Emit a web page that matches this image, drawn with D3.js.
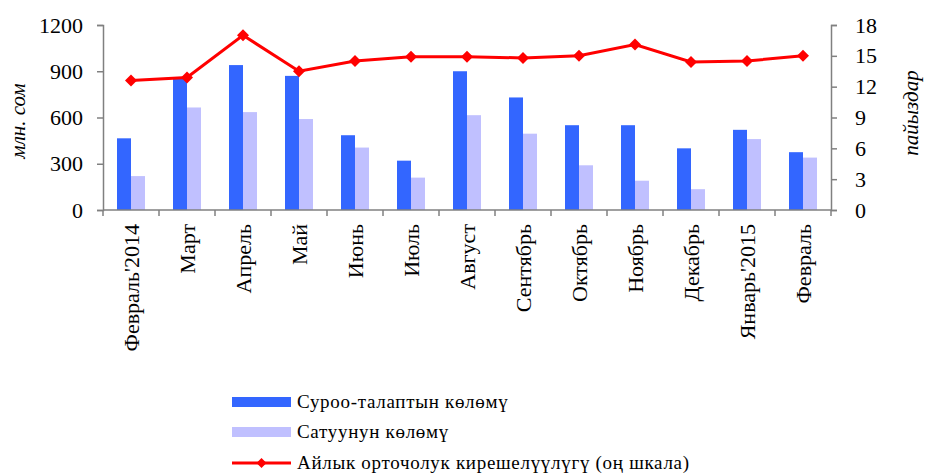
<!DOCTYPE html>
<html>
<head>
<meta charset="utf-8">
<script src="https://cdn.jsdelivr.net/npm/d3@7"></script>
<style>
  body { margin: 0; background: #fff; }
  text { font-family: "Liberation Serif", "Times New Roman", serif; fill: #000; }
</style>
</head>
<body>
<svg id="chart"></svg>
<script>
// months along the x axis
var months = ["Февраль'2014", "Март", "Апрель", "Май", "Июнь", "Июль", "Август",
  "Сентябрь", "Октябрь", "Ноябрь", "Декабрь", "Январь'2015", "Февраль"];
// demand volume, mln som
var demand = [465, 850, 940, 870, 485, 320, 900, 730, 550, 550, 400, 520, 375];
// sales volume, mln som
var sales = [220, 665, 635, 590, 405, 210, 615, 495, 290, 190, 135, 460, 340];
// average monthly yield, % (right scale)
var yieldPct = [12.6, 12.9, 17.0, 13.5, 14.5, 14.9, 14.9, 14.8, 15.0, 16.1, 14.4, 14.5, 15.0];
var leftTicks = [0, 300, 600, 900, 1200];
var rightTicks = [0, 3, 6, 9, 12, 15, 18];
var legendNames = ["Суроо-талаптын көлөмү", "Сатуунун көлөмү", "Айлык орточолук кирешелүүлүгү (оң шкала)"];

var width = 927, height = 476;
// plot area (window.top is reserved, so prefixed names)
var plotL = 103, plotR = 831, plotT = 25, plotB = 210;
var axisColor = "#808080";

var svg = d3.select("#chart").attr("width", width).attr("height", height);

var x = d3.scaleBand().domain(months).range([plotL, plotR]);
var yL = d3.scaleLinear().domain([0, 1200]).range([plotB, plotT]);
var yR = d3.scaleLinear().domain([0, 18]).range([plotB, plotT]);
var barW = 14;

// bars
var grp = svg.selectAll(".month").data(months).enter().append("g");
grp.append("rect")
  .attr("x", function(d) { return x(d) + x.bandwidth() / 2 - barW; })
  .attr("width", barW)
  .attr("y", function(d, i) { return yL(demand[i]); })
  .attr("height", function(d, i) { return plotB - yL(demand[i]); })
  .attr("fill", "#3366ff");
grp.append("rect")
  .attr("x", function(d) { return x(d) + x.bandwidth() / 2; })
  .attr("width", barW)
  .attr("y", function(d, i) { return yL(sales[i]); })
  .attr("height", function(d, i) { return plotB - yL(sales[i]); })
  .attr("fill", "#c0c0ff");

// axes
var axL = svg.append("g").attr("transform", "translate(" + plotL + ",0)")
  .call(d3.axisLeft(yL).tickValues(leftTicks).tickSize(6).tickPadding(14).tickFormat(d3.format("d")));
var axR = svg.append("g").attr("transform", "translate(" + plotR + ",0)")
  .call(d3.axisRight(yR).tickValues(rightTicks).tickSize(6).tickPadding(18));
[axL, axR].forEach(function(a) {
  a.selectAll("text").style("font-size", "22px").style("font-family", "Liberation Serif");
});

var axX = svg.append("g").attr("transform", "translate(0," + plotB + ")");
axX.append("line").attr("x1", plotL).attr("x2", plotR).attr("stroke", axisColor).attr("stroke-width", 1.5);
axX.selectAll(".tk").data(d3.range(months.length + 1)).enter().append("line")
  .attr("x1", function(i) { return plotL + i * x.step(); })
  .attr("x2", function(i) { return plotL + i * x.step(); })
  .attr("y1", 0).attr("y2", 6)
  .attr("stroke", axisColor).attr("stroke-width", 1.5);
axX.selectAll(".lbl").data(months).enter().append("text")
  .attr("transform", function(d) { return "translate(" + (x(d) + x.bandwidth() / 2 + 8) + ",14) rotate(-90)"; })
  .attr("text-anchor", "end")
  .style("font-size", "22px")
  .text(function(d) { return d; });

svg.selectAll(".domain, .tick line").attr("stroke", axisColor).attr("stroke-width", 1.5);

// yield line
var line = d3.line()
  .x(function(d, i) { return x(months[i]) + x.bandwidth() / 2; })
  .y(function(d) { return yR(d); });
svg.append("path").datum(yieldPct).attr("d", line)
  .attr("fill", "none").attr("stroke", "#ff0000").attr("stroke-width", 3);
var diamond = "M0,-6L6,0L0,6L-6,0Z";
svg.selectAll(".mk").data(yieldPct).enter().append("path")
  .attr("d", diamond)
  .attr("transform", function(d, i) { return "translate(" + (x(months[i]) + x.bandwidth() / 2) + "," + yR(d) + ")"; })
  .attr("fill", "#ff0000");

// axis titles
svg.append("text").attr("transform", "translate(25,121) rotate(-90)")
  .attr("text-anchor", "middle").style("font-size", "21px").style("font-style", "italic")
  .text("млн. сом");
svg.append("text").attr("transform", "translate(918,113) rotate(-90)")
  .attr("text-anchor", "middle").style("font-size", "21px").style("font-style", "italic")
  .text("пайыздар");

// legend
var lg = svg.append("g").attr("transform", "translate(232,0)");
var rows = [402, 432, 463];
lg.append("rect").attr("x", 0).attr("y", rows[0] - 5).attr("width", 59).attr("height", 10).attr("fill", "#3366ff");
lg.append("rect").attr("x", 0).attr("y", rows[1] - 5).attr("width", 59).attr("height", 10).attr("fill", "#c0c0ff");
lg.append("line").attr("x1", 0).attr("x2", 59).attr("y1", rows[2]).attr("y2", rows[2])
  .attr("stroke", "#ff0000").attr("stroke-width", 3);
lg.append("path").attr("d", "M0,-5L5,0L0,5L-5,0Z").attr("transform", "translate(29.5," + rows[2] + ")").attr("fill", "#ff0000");
lg.selectAll(".lt").data(legendNames).enter().append("text")
  .attr("x", 65).attr("y", function(d, i) { return rows[i] + 6; })
  .style("font-size", "19px").style("letter-spacing", "0.7px")
  .text(function(d) { return d; });
</script>
</body>
</html>
